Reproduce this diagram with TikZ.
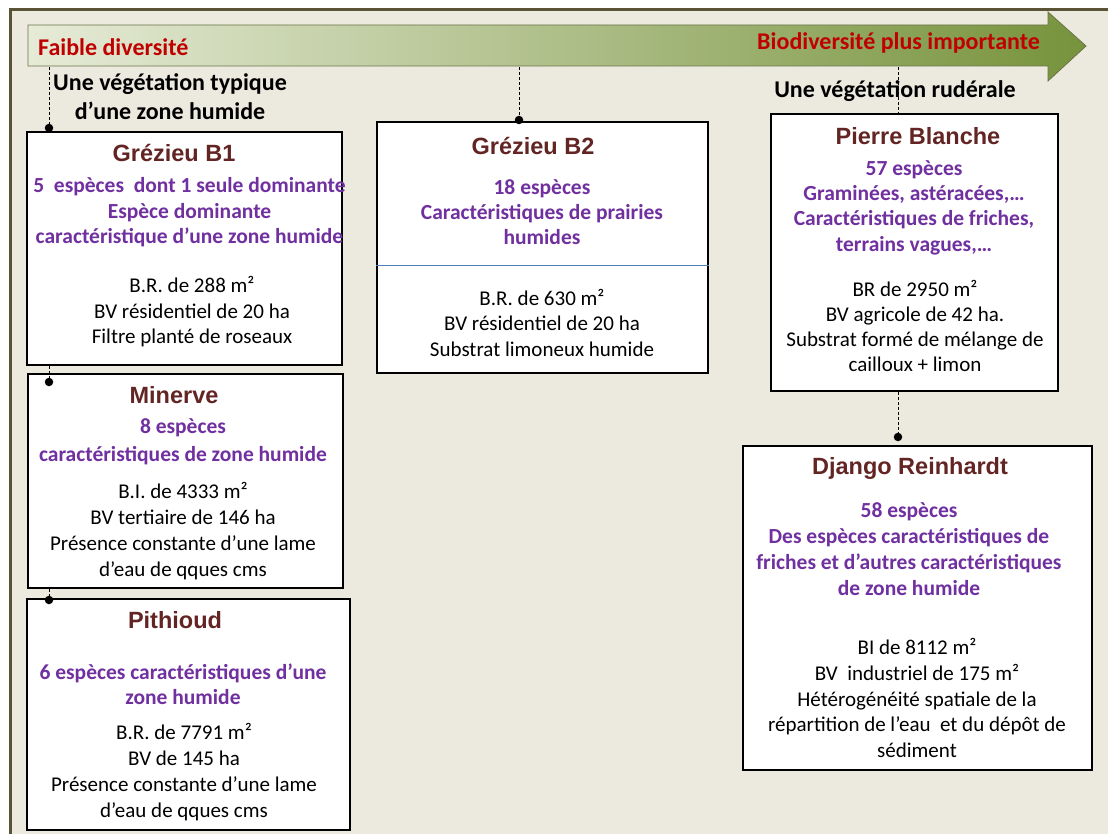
\documentclass[tikz,border=0pt]{standalone}
\usepackage{fontspec}
\setmainfont{Carlito}
\newfontfamily\titlefont{Liberation Sans}
\definecolor{titlered}{HTML}{632523}
\definecolor{purp}{HTML}{7030A0}
\definecolor{redtxt}{HTML}{C00000}
\definecolor{beige}{HTML}{ECE9DF}
\definecolor{framec}{HTML}{5B5335}
\definecolor{arrL}{HTML}{E6EBD7}
\definecolor{arrM}{HTML}{C2CDA8}
\definecolor{arrR}{HTML}{77933C}
\definecolor{arrEdge}{HTML}{6B7448}
\definecolor{sepblue}{HTML}{4F81BD}
\tikzset{
  box/.style={draw=black, line width=1.8pt, fill=white, inner sep=0pt},
  ttl/.style={font=\titlefont\bfseries\fontsize{23.5}{28}\selectfont, text=titlered, inner sep=0pt},
  pur/.style={font=\bfseries\fontsize{21.5}{25.5}\selectfont, text=purp, align=center, inner sep=0pt},
  bod/.style={font=\fontsize{21}{25.5}\selectfont, align=center, inner sep=0pt},
  lab/.style={font=\bfseries\fontsize{24}{29}\selectfont, align=center, inner sep=0pt},
  redlab/.style={font=\bfseries\fontsize{24}{28}\selectfont, text=redtxt, inner sep=0pt},
  dotnode/.style={circle, fill=black, inner sep=0pt, minimum size=8.5pt},
  conn/.style={draw=black, line width=1pt, dash pattern=on 3pt off 2pt}
}
\begin{document}
\begin{tikzpicture}[x=1pt,y=-1pt]
\useasboundingbox (0,0) rectangle (1108,834);
% background
\fill[white] (0,0) rectangle (1108,834);
\fill[beige] (10,10) rectangle (1108,834);
\draw[framec, line width=3pt] (10,834) -- (10,10) -- (1108,10);
% arrow
\shadedraw[left color=arrL, middle color=arrM, right color=arrR, draw=arrEdge, line width=0.8pt]
  (28,25) -- (1048,25) -- (1048,12) -- (1086,46) -- (1048,81) -- (1048,66) -- (28,66) -- cycle;
\coordinate (abot) at (0,67);
\node[redlab, anchor=west] (lowdiv) at (38,47) {Faible diversité};
\node[redlab, anchor=east] (highdiv) at (1040,43) {Biodiversité plus importante};
% boxes
\node[box, minimum width=315pt, minimum height=233pt] (b1) at (184.5,248.5) {};
\node[box, minimum width=315pt, minimum height=214pt] (mi) at (185.5,481) {};
\node[box, minimum width=323pt, minimum height=231pt] (pi) at (188.5,714.5) {};
\node[box, minimum width=331pt, minimum height=251pt] (b2) at (542.5,247.5) {};
\node[box, minimum width=287pt, minimum height=277pt] (pb) at (914.5,252.5) {};
\node[box, minimum width=349pt, minimum height=324pt] (dr) at (917.5,608) {};
\draw[sepblue, line width=1pt] (b2.west |- 0,266) -- (b2.east |- 0,266);
% dots
\node[dotnode] (d1) at (49,128) {};
\node[dotnode] (d2) at (49,382) {};
\node[dotnode] (d3) at (49,600) {};
\node[dotnode] (d4) at (519,120) {};
\node[dotnode] (d5) at (898,437) {};
% connectors
\draw[conn] (abot -| d1) -- (d1);
\draw[conn] (b1.south -| d2) -- (d2);
\draw[conn] (mi.south -| d3) -- (d3);
\draw[conn] (abot -| d4) -- (d4);
\draw[conn] (abot -| d5) -- (pb.north -| d5);
\draw[conn] (pb.south -| d5) -- (d5);
% labels
\node[lab] (vegzh) at (170,96.5) {Une végétation typique\\d’une zone humide};
\node[lab] (vegrud) at (895,91) {Une végétation rudérale};
% Grezieu B1
\node[ttl] (b1t) at (174,153) {Grézieu B1};
\node[pur] (b1p) at (189.5,212.5) {5\ \ espèces\ \ dont 1 seule dominante\\Espèce dominante\\caractéristique d’une zone humide};
\node[bod] (b1b) at (192,312) {B.R. de 288 m²\\BV résidentiel de 20 ha\\Filtre planté de roseaux};
% Minerve
\node[ttl] (mit) at (174,395) {Minerve};
\node[pur, font=\bfseries\fontsize{21.5}{27.5}\selectfont] (mip) at (183,442) {8 espèces\\caractéristiques de zone humide};
\node[bod, font=\fontsize{21}{26}\selectfont] (mib) at (183,531) {B.I. de 4333 m²\\BV tertiaire de 146 ha\\Présence constante d’une lame\\d’eau de qques cms};
% Pithioud
\node[ttl] (pit) at (175,620) {Pithioud};
\node[pur] (pip) at (183,684.5) {6 espèces caractéristiques d’une\\zone humide};
\node[bod, font=\fontsize{21}{26}\selectfont] (pib) at (184,772) {B.R. de 7791 m²\\BV de 145 ha\\Présence constante d’une lame\\d’eau de qques cms};
% Grezieu B2
\node[ttl] (b2t) at (533,146) {Grézieu B2};
\node[pur, font=\bfseries\fontsize{21.5}{25}\selectfont] (b2p) at (542,212.5) {18 espèces\\Caractéristiques de prairies\\humides};
\node[bod] (b2b) at (542,322.5) {B.R. de 630 m²\\BV résidentiel de 20 ha\\Substrat limoneux humide};
% Pierre Blanche
\node[ttl] (pbt) at (918,136) {Pierre Blanche};
\node[pur, font=\bfseries\fontsize{21.5}{25.3}\selectfont] (pbp) at (914,207.5) {57 espèces\\Graminées, astéracées,…\\Caractéristiques de friches,\\terrains vagues,…};
\node[bod, font=\fontsize{21}{25}\selectfont] (pbb) at (915,325.5) {BR de 2950 m²\\BV agricole de 42 ha.\\Substrat formé de mélange de\\cailloux + limon};
% Django Reinhardt
\node[ttl] (drt) at (910,468) {Django Reinhardt};
\node[pur, font=\bfseries\fontsize{21.5}{26}\selectfont] (drp) at (909,549) {58 espèces\\Des espèces caractéristiques de\\friches et d’autres caractéristiques\\de zone humide};
\node[bod, font=\fontsize{21}{25.7}\selectfont] (drb) at (917,698) {BI de 8112 m²\\BV\ \ industriel de 175 m²\\Hétérogénéité spatiale de la\\répartition de l’eau\ \ et du dépôt de\\sédiment};
\end{tikzpicture}
\end{document}
